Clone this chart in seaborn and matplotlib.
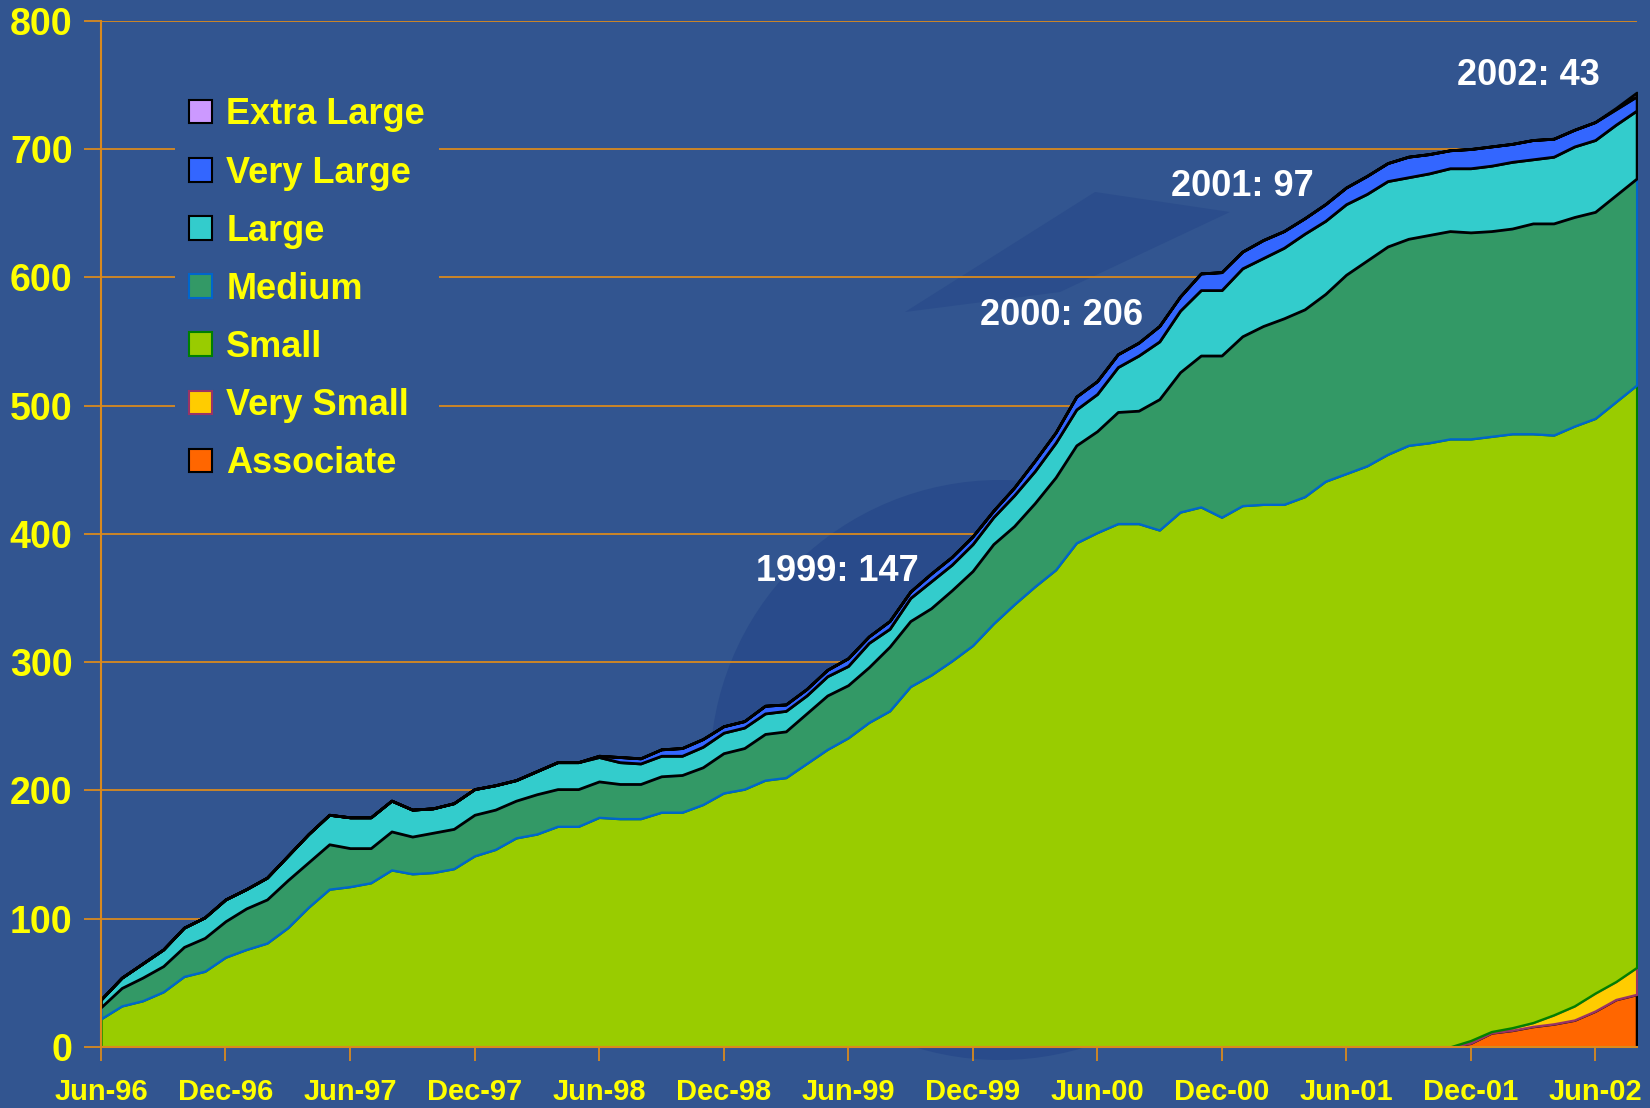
import numpy as np
import pandas as pd
import matplotlib
matplotlib.use("Agg")
import matplotlib.pyplot as plt
import seaborn as sns
from matplotlib.patches import Patch, Ellipse, Polygon

# monthly member counts, Jun-96 .. Aug-02 (75 months)
associate = [0] * 66 + [3, 11, 13, 16, 18, 21, 28, 37, 41]
very_small = [0] * 66 + [2, 1, 2, 3, 7, 11, 14, 14, 21]
small = [22, 32, 36, 43, 55, 59, 70, 76, 81, 93,
         109, 123, 125, 128, 138, 135, 136, 139, 149, 154,
         163, 166, 172, 172, 179, 178, 178, 183, 183, 189,
         198, 201, 208, 210, 221, 232, 241, 253, 262, 281,
         290, 301, 313, 330, 345, 359, 372, 393, 401, 408,
         408, 403, 417, 421, 413, 422, 423, 423, 429, 441,
         447, 453, 462, 469, 471, 474, 469, 464, 463, 459,
         452, 452, 448, 452, 454]
medium = [9, 14, 18, 20, 23, 26, 28, 32, 34, 37,
          35, 35, 30, 27, 30, 29, 31, 31, 32, 31,
          29, 31, 29, 29, 28, 27, 27, 28, 29, 29,
          31, 32, 36, 36, 39, 42, 41, 43, 50, 51,
          52, 55, 58, 62, 61, 65, 72, 76, 79, 87,
          88, 102, 109, 118, 126, 132, 139, 145, 146, 146,
          155, 160, 162, 161, 162, 162, 161, 160, 160, 164,
          165, 163, 161, 161, 161]
large = [6, 8, 11, 13, 15, 16, 17, 15, 17, 19,
         22, 23, 24, 24, 24, 21, 19, 20, 20, 19,
         16, 18, 21, 21, 19, 17, 16, 16, 15, 16,
         16, 16, 16, 16, 14, 15, 15, 19, 14, 18,
         21, 20, 21, 21, 24, 25, 27, 28, 29, 35,
         43, 45, 48, 51, 51, 53, 53, 55, 59, 57,
         55, 52, 51, 48, 48, 49, 50, 51, 52, 50,
         52, 55, 56, 55, 53]
very_large = [0] * 24 + [1, 4, 4, 5, 6, 6,
              5, 5, 6, 5, 5, 5, 6, 5, 6, 5,
              6, 6, 6, 5, 6, 8, 8, 10, 10, 10,
              10, 12, 11, 13, 14, 13, 14, 13, 12, 13,
              13, 14, 14, 16, 15, 14, 15, 15, 14, 15,
              14, 13, 14, 12, 11]
extra_large = [0] * 73 + [1, 3]

tick_labels = ["Jun-96", "Dec-96", "Jun-97", "Dec-97", "Jun-98", "Dec-98",
               "Jun-99", "Dec-99", "Jun-00", "Dec-00", "Jun-01", "Dec-01", "Jun-02"]

notes = ["1999: 147", "2000: 206", "2001: 97", "2002: 43"]
note_x = [35.5, 46.3, 55.0, 68.8]
note_y = [371, 570, 671, 757]

names = ["Associate", "Very Small", "Small", "Medium", "Large", "Very Large", "Extra Large"]
fills = ["#FF6600", "#FFCC00", "#99CC00", "#339966", "#33CCCC", "#3366FF", "#CC99FF"]
edges = ["#000000", "#993366", "#008000", "#0066CC", "#000000", "#000000", "#000000"]

df = pd.DataFrame({
    "Associate": associate, "Very Small": very_small, "Small": small,
    "Medium": medium, "Large": large, "Very Large": very_large,
    "Extra Large": extra_large,
})
df["month"] = np.arange(len(df))

BG = "#325590"
ORANGE = "#D98A1E"
YELLOW = "#FFFF00"

sns.set_theme(style="dark")
plt.rcParams["font.family"] = ["Liberation Sans", "DejaVu Sans"]

W, H = 1650, 1108
fig = plt.figure(figsize=(16.5, 11.08), dpi=100, facecolor=BG)
# faint backdrop swooshes behind the chart (pixel positions, top-down)
fig.patches.append(Ellipse((1000 / W, 1 - 770 / H), 580 / W, 580 / H,
                           transform=fig.transFigure, facecolor="#294B8B",
                           edgecolor="none", zorder=-1))
wedge = [(905, 312), (1095, 192), (1230, 212), (1060, 292)]
fig.patches.append(Polygon([(x / W, 1 - y / H) for x, y in wedge],
                           transform=fig.transFigure, facecolor="#2B4D8C",
                           edgecolor="none", zorder=-1))
ax = fig.add_axes([0.0612, 0.0551, 0.9307, 0.9262])
ax.set_facecolor("none")

base = np.zeros(len(df))
for name, fc, ec in zip(names, fills, edges):
    top = base + df[name].values
    lw = 2.0 if ec == "#000000" else 1.7
    ax.fill_between(df["month"], base, top, facecolor=fc, edgecolor=ec,
                    linewidth=lw, zorder=2)
    base = top

ax.set_xlim(0, 74)
ax.set_ylim(0, 800)
ax.set_yticks(range(0, 801, 100))
ax.set_xticks(range(0, 73, 6))
ax.set_xticklabels(tick_labels)
ax.set_xlabel("")
ax.set_ylabel("")

ax.set_axisbelow(True)
ax.yaxis.grid(True, color=ORANGE, linewidth=1.3)
ax.xaxis.grid(False)
for side in ["top", "right"]:
    ax.spines[side].set_visible(False)
for side in ["left", "bottom"]:
    ax.spines[side].set_visible(True)
    ax.spines[side].set_color(ORANGE)
    ax.spines[side].set_linewidth(1.5)
    ax.spines[side].set_zorder(3)

ax.tick_params(axis="y", direction="out", length=12, width=1.3, color=ORANGE,
               pad=8.5, labelsize=27, labelcolor=YELLOW, left=True)
ax.tick_params(axis="x", direction="out", length=10, width=1.3, color=ORANGE,
               pad=12.5, labelsize=21, labelcolor=YELLOW, bottom=True)
for lab in ax.get_xticklabels() + ax.get_yticklabels():
    lab.set_fontweight("bold")

for txt, x, y in zip(notes, note_x, note_y):
    ax.text(x, y, txt, color="white", fontsize=26, fontweight="bold",
            ha="center", va="center", zorder=4)

handles = [Patch(facecolor=fc, edgecolor=ec, linewidth=1.5)
           for fc, ec in zip(fills, edges)][::-1]
leg = ax.legend(handles, names[::-1], loc="upper left",
                bbox_to_anchor=(175 / W, 1 - 83 / H),
                bbox_transform=fig.transFigure, frameon=True, facecolor=BG,
                edgecolor="none", framealpha=1, fancybox=False,
                prop={"weight": "bold", "size": 26}, labelcolor=YELLOW,
                handlelength=0.62, handleheight=0.62, handletextpad=0.4,
                labelspacing=0.64, borderpad=0.4, borderaxespad=0)
leg.set_zorder(5)

fig.savefig("out.png", dpi=100, facecolor=BG)
